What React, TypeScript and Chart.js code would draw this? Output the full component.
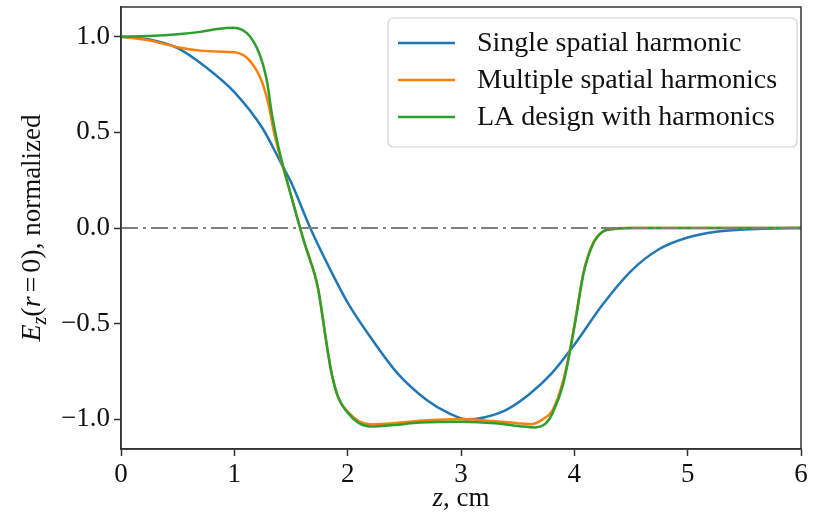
import { useEffect, useRef } from 'react';
import { Chart, registerables } from 'chart.js';

Chart.register(...registerables);

// ---- data ----
const singleZ = [0, 0.25, 0.5, 0.75, 1.0, 1.25, 1.42, 1.5, 1.67, 1.84, 2.0, 2.2, 2.44, 2.7, 2.9, 3.05, 3.2, 3.4, 3.6, 3.8, 4.0, 4.25, 4.5, 4.75, 5.0, 5.25, 5.5, 5.75, 6.0];
const singleV = [1.0, 0.985, 0.94, 0.84, 0.71, 0.52, 0.33, 0.24, 0.0, -0.21, -0.39, -0.57, -0.76, -0.9, -0.97, -1.0, -0.99, -0.95, -0.87, -0.76, -0.61, -0.4, -0.225, -0.11, -0.05, -0.02, -0.008, -0.002, 0];

const multiZ = [0, 0.25, 0.5, 0.7, 0.85, 1.0, 1.1, 1.2, 1.25, 1.3, 1.35, 1.4, 1.45, 1.5, 1.58, 1.62, 1.67, 1.71, 1.74, 1.765, 1.8, 1.83, 1.86, 1.92, 2.0, 2.1, 2.2, 2.4, 2.7, 3.0, 3.3, 3.5, 3.62, 3.72, 3.81, 3.9, 3.96, 4.02, 4.08, 4.16, 4.25, 4.35, 4.5, 5.0, 5.5, 6.0];
const multiV = [1.0, 0.98, 0.945, 0.927, 0.922, 0.918, 0.895, 0.82, 0.755, 0.65, 0.5, 0.38, 0.275, 0.17, 0.0, -0.08, -0.17, -0.245, -0.32, -0.41, -0.55, -0.665, -0.765, -0.89, -0.96, -1.01, -1.025, -1.02, -1.005, -1.0, -1.01, -1.02, -1.025, -1.0, -0.95, -0.8, -0.64, -0.44, -0.235, -0.085, -0.018, -0.004, 0, 0, 0, 0];

const laZ = [0, 0.25, 0.5, 0.7, 0.85, 0.99, 1.07, 1.14, 1.2, 1.25, 1.29, 1.33, 1.39, 1.45, 1.5, 1.58, 1.62, 1.67, 1.71, 1.74, 1.765, 1.8, 1.83, 1.86, 1.92, 2.0, 2.1, 2.2, 2.4, 2.64, 3.0, 3.3, 3.52, 3.65, 3.75, 3.81, 3.9, 3.96, 4.02, 4.08, 4.16, 4.25, 4.35, 4.5, 5.0, 5.5, 6.0];
const laV = [1.0, 1.003, 1.012, 1.025, 1.04, 1.047, 1.035, 1.0, 0.94, 0.86, 0.76, 0.6, 0.42, 0.28, 0.17, 0.0, -0.08, -0.17, -0.245, -0.32, -0.41, -0.55, -0.665, -0.765, -0.89, -0.965, -1.02, -1.037, -1.03, -1.017, -1.012, -1.02, -1.036, -1.042, -1.02, -0.965, -0.82, -0.65, -0.45, -0.24, -0.09, -0.02, -0.005, 0, 0, 0, 0];

const zeroZ = [0, 6];
const zeroV = [0, 0];

const seriesLabels = ['Single spatial harmonic', 'Multiple spatial harmonics', 'LA design with harmonics'];
const xTicks = [0, 1, 2, 3, 4, 5, 6];
const yTicks = [-1.0, -0.5, 0.0, 0.5, 1.0];

const SERIF = '"Liberation Serif", "Times New Roman", serif';
const AXIS_COLOR = '#333333';

const pts = (xs: number[], ys: number[]) => xs.map((x, i) => ({ x, y: ys[i] }));

type Seg = { text: string; italic?: boolean; size?: number; dy?: number; gapBefore?: number };

function drawSegs(ctx: CanvasRenderingContext2D, segs: Seg[], cx: number, baseY: number, base: number) {
  const fontOf = (s: Seg) => `${s.italic ? 'italic ' : ''}${s.size ?? base}px ${SERIF}`;
  let total = 0;
  for (const s of segs) {
    ctx.font = fontOf(s);
    total += (s.gapBefore ?? 0) + ctx.measureText(s.text).width;
  }
  let x = cx - total / 2;
  ctx.textBaseline = 'alphabetic';
  ctx.textAlign = 'left';
  for (const s of segs) {
    ctx.font = fontOf(s);
    x += s.gapBefore ?? 0;
    ctx.fillText(s.text, x, baseY + (s.dy ?? 0));
    x += ctx.measureText(s.text).width;
  }
}

const framePlugin = {
  id: 'frameAndTitles',
  afterDraw(chart: any) {
    const { ctx, chartArea } = chart;
    const { left, right, top, bottom } = chartArea;
    ctx.save();
    ctx.strokeStyle = AXIS_COLOR;
    ctx.lineWidth = 1.5;
    ctx.strokeRect(left, top, right - left, bottom - top);
    ctx.fillStyle = '#111111';
    // x title
    drawSegs(ctx, [{ text: 'z', italic: true }, { text: ', cm' }], (left + right) / 2, 506, 27);
    // y title
    ctx.translate(40, (top + bottom) / 2);
    ctx.rotate(-Math.PI / 2);
    drawSegs(
      ctx,
      [
        { text: 'E', italic: true, size: 28 },
        { text: 'z', italic: true, size: 20, dy: 6 },
        { text: '(', size: 28 },
        { text: 'r', italic: true, size: 28 },
        { text: '=', gapBefore: 4, size: 28 },
        { text: '0', gapBefore: 4, size: 28 },
        { text: ')', size: 28 },
        { text: ', normalized' },
      ],
      0,
      0,
      27,
    );
    ctx.restore();
  },
};

const legendPlugin = {
  id: 'insideLegend',
  afterDraw(chart: any) {
    const { ctx } = chart;
    const x0 = 388, y0 = 18, w = 409, h = 129, r = 6;
    ctx.save();
    ctx.beginPath();
    ctx.moveTo(x0 + r, y0);
    ctx.lineTo(x0 + w - r, y0);
    ctx.quadraticCurveTo(x0 + w, y0, x0 + w, y0 + r);
    ctx.lineTo(x0 + w, y0 + h - r);
    ctx.quadraticCurveTo(x0 + w, y0 + h, x0 + w - r, y0 + h);
    ctx.lineTo(x0 + r, y0 + h);
    ctx.quadraticCurveTo(x0, y0 + h, x0, y0 + h - r);
    ctx.lineTo(x0, y0 + r);
    ctx.quadraticCurveTo(x0, y0, x0 + r, y0);
    ctx.closePath();
    ctx.fillStyle = 'rgba(255,255,255,0.8)';
    ctx.fill();
    ctx.strokeStyle = '#d0d0d0';
    ctx.lineWidth = 1.2;
    ctx.stroke();
    const items = chart.data.datasets.filter((d: any) => !d.noLegend);
    items.forEach((d: any, i: number) => {
      const cy = 43 + i * 37;
      ctx.strokeStyle = d.borderColor;
      ctx.lineWidth = 2.5;
      ctx.beginPath();
      ctx.moveTo(398, cy);
      ctx.lineTo(455, cy);
      ctx.stroke();
      ctx.fillStyle = '#111111';
      ctx.font = `28px ${SERIF}`;
      ctx.textAlign = 'left';
      ctx.textBaseline = 'middle';
      ctx.fillText(d.label, 477, cy + 1);
    });
    ctx.restore();
  },
};

export default function App() {
  const ref = useRef<HTMLCanvasElement | null>(null);
  useEffect(() => {
    if (!ref.current) return;
    const lineDs = (label: string, xs: number[], ys: number[], color: string, order: number) => ({
      label,
      data: pts(xs, ys),
      borderColor: color,
      backgroundColor: color,
      borderWidth: 2.5,
      pointRadius: 0,
      fill: false,
      cubicInterpolationMode: 'monotone' as const,
      order,
    });
    const chart = new Chart(ref.current, {
      type: 'line',
      data: {
        datasets: [
          lineDs(seriesLabels[0], singleZ, singleV, '#1f77b4', 3),
          lineDs(seriesLabels[1], multiZ, multiV, '#ff7f0e', 2),
          lineDs(seriesLabels[2], laZ, laV, '#2ca02c', 1),
          {
            label: 'zero',
            noLegend: true,
            data: pts(zeroZ, zeroV),
            borderColor: '#7f7f7f',
            borderWidth: 2,
            borderDash: [17, 5, 3, 5],
            pointRadius: 0,
            fill: false,
            order: 0,
          } as any,
        ],
      },
      options: {
        animation: false,
        responsive: false,
        maintainAspectRatio: false,
        events: [],
        layout: { padding: { left: 0, right: 14, top: 7, bottom: 0 } },
        plugins: {
          legend: { display: false },
          tooltip: { enabled: false },
        },
        scales: {
          x: {
            type: 'linear',
            min: 0,
            max: 6,
            afterFit: (s: any) => {
              s.height = 70;
              s.paddingLeft = 0;
              s.paddingRight = 0;
            },
            afterBuildTicks: (s: any) => {
              s.ticks = xTicks.map((v) => ({ value: v }));
            },
            ticks: {
              font: { family: SERIF, size: 27 },
              color: '#111111',
              padding: 3,
              maxRotation: 0,
              autoSkip: false,
              callback: (v: any) => String(v),
            },
            grid: { drawOnChartArea: false, drawTicks: true, tickLength: 7, tickColor: AXIS_COLOR, tickWidth: 1.5 },
            border: { display: true, color: AXIS_COLOR, width: 1.5 },
          },
          y: {
            type: 'linear',
            min: -1.155,
            max: 1.155,
            afterFit: (s: any) => {
              s.width = 121;
              s.paddingTop = 0;
              s.paddingBottom = 0;
            },
            afterBuildTicks: (s: any) => {
              s.ticks = yTicks.map((v) => ({ value: v }));
            },
            ticks: {
              font: { family: SERIF, size: 27 },
              color: '#111111',
              padding: 4,
              autoSkip: false,
              callback: (v: any) => {
                const n = Number(v);
                return (n < 0 ? '\u2212' : '') + Math.abs(n).toFixed(1);
              },
            },
            grid: { drawOnChartArea: false, drawTicks: true, tickLength: 7, tickColor: AXIS_COLOR, tickWidth: 1.5 },
            border: { display: true, color: AXIS_COLOR, width: 1.5 },
          },
        },
      },
      plugins: [framePlugin, legendPlugin],
    });
    return () => chart.destroy();
  }, []);
  return (
    <div style={{ position: 'fixed', left: 0, top: 0, width: 815, height: 519, background: '#ffffff' }}>
      <canvas ref={ref} width={815} height={519} style={{ display: 'block', width: 815, height: 519 }} />
    </div>
  );
}
